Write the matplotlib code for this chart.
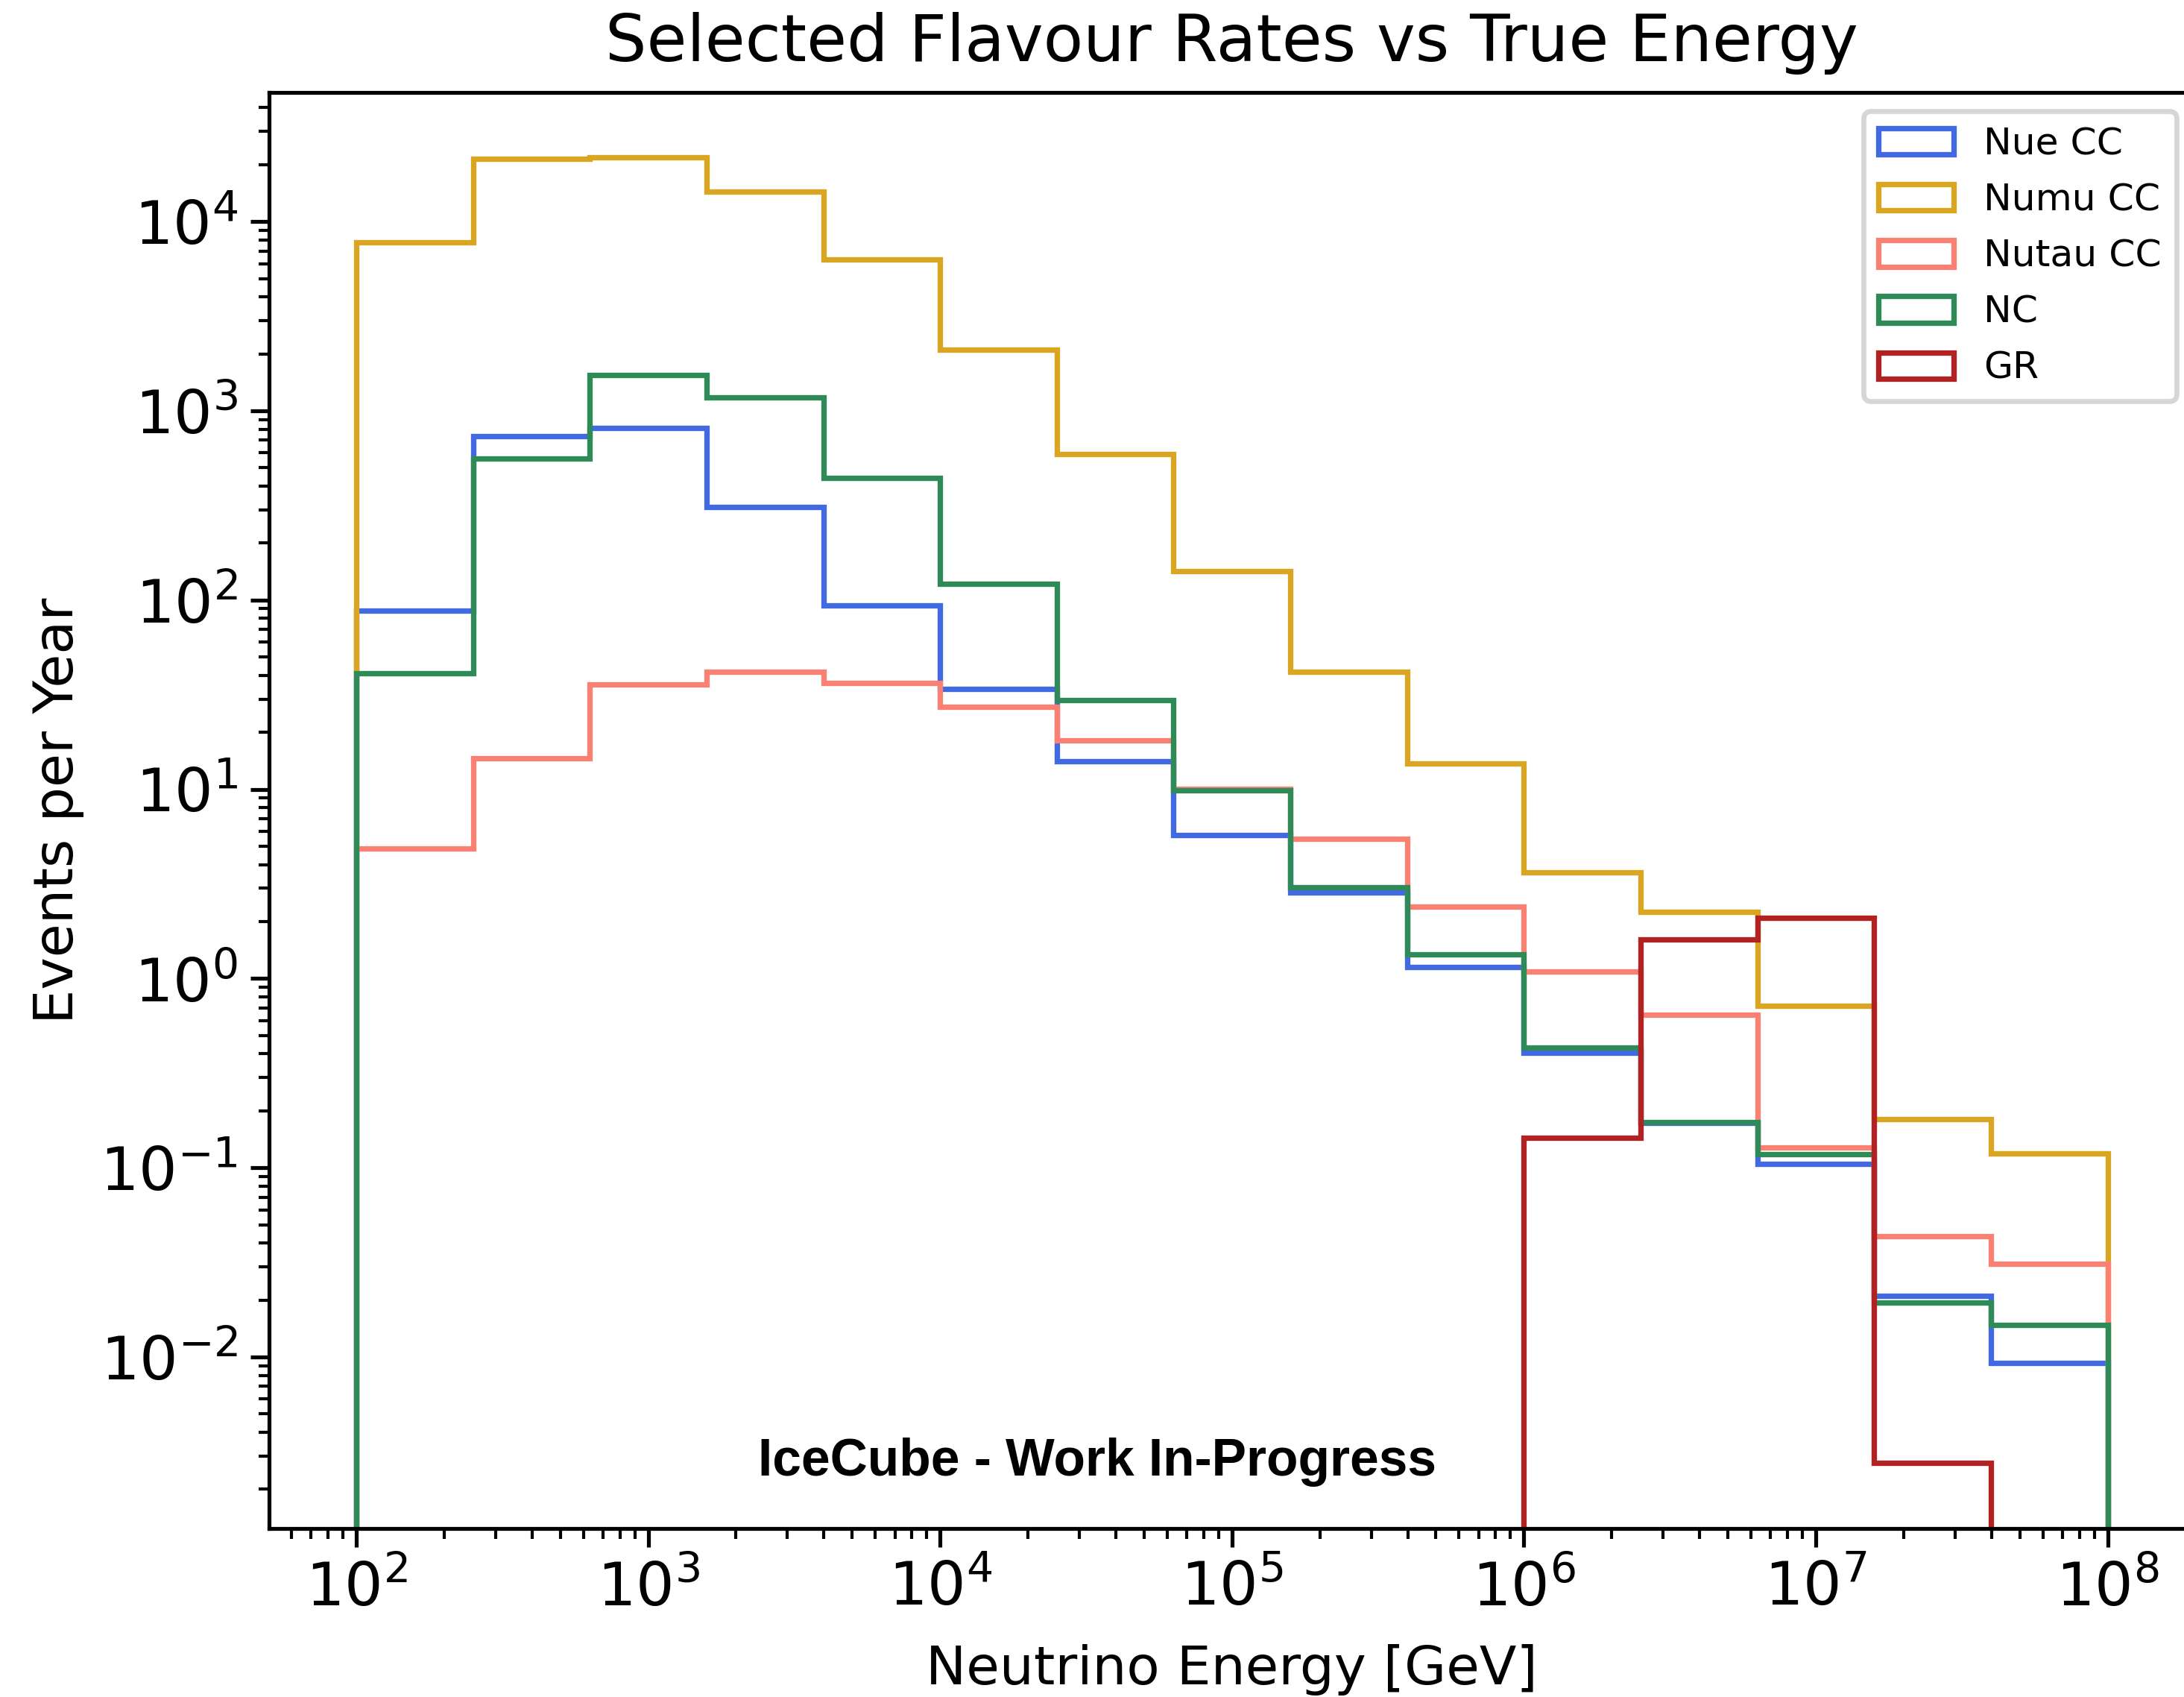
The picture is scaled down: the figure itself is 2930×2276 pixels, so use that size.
import numpy as np
import matplotlib
import matplotlib.pyplot as plt

matplotlib.use('Agg')

plt.rcParams['font.family'] = 'DejaVu Sans'
plt.rcParams['font.size'] = 12
plt.rcParams['axes.linewidth'] = 1.25
for ax_name in ('xtick', 'ytick'):
    plt.rcParams[ax_name + '.major.size'] = 6
    plt.rcParams[ax_name + '.major.width'] = 1.25
    plt.rcParams[ax_name + '.minor.size'] = 3.3
    plt.rcParams[ax_name + '.minor.width'] = 1.0

# bin edges in log10(E / GeV), 2.5 bins per decade
log_edges = [2.0, 2.4, 2.8, 3.2, 3.6, 4.0, 4.4, 4.8, 5.2, 5.6,
             6.0, 6.4, 6.8, 7.2, 7.6, 8.0]

# selected events per year in each energy bin
nue_cc = [88, 735, 813, 310, 94, 34, 14.1, 5.74, 2.85, 1.15,
          0.407, 0.173, 0.105, 0.021, 0.0093]
numu_cc = [7780, 21500, 21900, 14450, 6340, 2100, 590, 142, 41.9, 13.7,
           3.65, 2.25, 0.72, 0.181, 0.119]
nutau_cc = [4.85, 14.6, 35.9, 41.8, 36.5, 27.4, 18.2, 10.05, 5.46, 2.39,
            1.09, 0.646, 0.128, 0.0435, 0.0311]
nc = [41, 561, 1550, 1180, 442, 122, 29.7, 9.89, 3.03, 1.34,
      0.433, 0.175, 0.118, 0.0194, 0.0148]
gr = [0, 0, 0, 0, 0, 0, 0, 0, 0, 0,
      0.144, 1.61, 2.09, 0.00276, 0]

labels = ['Nue CC', 'Numu CC', 'Nutau CC', 'NC', 'GR']
colours = ['royalblue', 'goldenrod', 'salmon', 'seagreen', 'firebrick']
rates = [nue_cc, numu_cc, nutau_cc, nc, gr]

edges = 10.0 ** np.array(log_edges)
centres = np.sqrt(edges[:-1] * edges[1:])

fig = plt.figure(figsize=(2930 / 300, 2276 / 300), dpi=300)
ax = fig.add_axes([0.12304, 0.0993, 0.88208, 0.84635])

for label, vals, colour in zip(labels, rates, colours):
    vals = np.asarray(vals, dtype=float)
    nz = np.nonzero(vals)[0]
    lo, hi = nz[0], nz[-1] + 1
    ax.hist(centres[lo:hi], bins=edges[lo:hi + 1], weights=vals[lo:hi],
            histtype='step', color=colour, linewidth=1.75, label=label)

ax.set_xscale('log')
ax.set_yscale('log')
ax.set_xlim(10 ** 1.7, 10 ** 8.3)
ax.set_ylim(10 ** -2.906, 10 ** 4.684)

ax.tick_params(axis='both', which='major', labelsize=19.5, pad=4)
ax.set_xlabel('Neutrino Energy [GeV]', fontsize=17.4, labelpad=8)
ax.set_ylabel('Events per Year', fontsize=17.6, labelpad=5)
ax.set_title('Selected Flavour Rates vs True Energy', fontsize=21, pad=10)

leg = ax.legend(loc='upper right', fontsize=12.1, labelspacing=0.54)
leg.get_frame().set_linewidth(1.6)

ax.text(0.430, 0.0367, 'IceCube - Work In-Progress', transform=ax.transAxes,
        ha='center', va='baseline', fontsize=16.7, fontweight='bold',
        family='Liberation Sans')

fig.savefig('out.png', dpi=300)
